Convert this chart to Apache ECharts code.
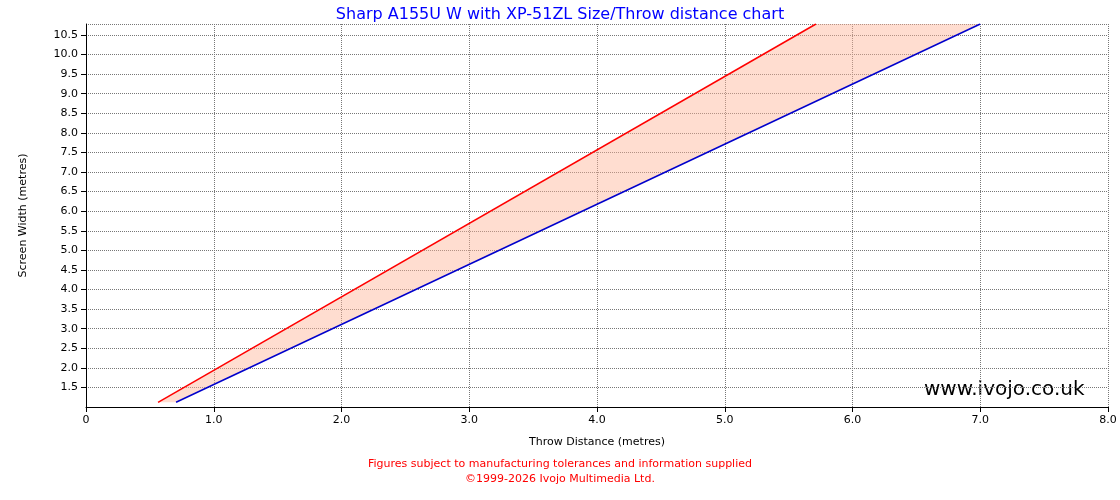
<!DOCTYPE html>
<html><head><meta charset="utf-8">
<script src="https://cdn.jsdelivr.net/npm/echarts@6/dist/echarts.min.js"></script>
<style>body{margin:0}#main{width:1120px;height:500px}</style>
</head><body>
<div id="main"></div>
<script>
// throw distance (m) vs screen width (m)
var redLine = [[0.564, 1.12], [5.714, 10.78]];
var blueLine = [[0.705, 1.12], [7.0, 10.78]];
var xTicks = [0, 1, 2, 3, 4, 5, 6, 7, 8];

var chart = echarts.init(document.getElementById('main'));
var font = 'DejaVu Sans';
chart.setOption({
    animation: false,
    title: {
        text: 'Sharp A155U W with XP-51ZL Size/Throw distance chart',
        left: 'center', top: 2,
        textStyle: {color: '#0000ff', fontSize: 16, fontWeight: 'normal', fontFamily: font}
    },
    grid: {left: 86, right: 12, top: 24, bottom: 93},
    xAxis: {
        type: 'value', min: 0, max: 8, interval: 1,
        name: 'Throw Distance (metres)', nameLocation: 'middle', nameGap: 30,
        nameTextStyle: {color: '#000', fontSize: 11, fontFamily: font},
        axisLine: {lineStyle: {color: '#000'}},
        axisTick: {lineStyle: {color: '#000'}},
        axisLabel: {color: '#000', fontSize: 11, fontFamily: font,
            formatter: function (v) { return xTicks.indexOf(v) >= 0 ? (v === 0 ? '0' : v.toFixed(1)) : ''; }},
        splitLine: {lineStyle: {color: '#777', type: 'dotted'}}
    },
    yAxis: {
        type: 'value', min: 1.0, max: 10.78, interval: 0.5,
        name: 'Screen Width (metres)', nameLocation: 'middle', nameGap: 57,
        nameTextStyle: {color: '#000', fontSize: 11, fontFamily: font},
        axisLine: {show: true, lineStyle: {color: '#000'}},
        axisTick: {show: true, lineStyle: {color: '#000'}},
        axisLabel: {color: '#000', fontSize: 11, fontFamily: font, showMinLabel: false, showMaxLabel: false,
            formatter: function (v) { return v.toFixed(1); }},
        splitLine: {lineStyle: {color: '#777', type: 'dotted'}}
    },
    graphic: [
        {type: 'text', left: 924, top: 380, style: {text: 'www.ivojo.co.uk', fill: '#000', fontSize: 20, fontFamily: font}},
        {type: 'text', left: 'center', top: 459, style: {text: 'Figures subject to manufacturing tolerances and information supplied', fill: '#ff0000', fontSize: 11, fontFamily: font}},
        {type: 'text', left: 'center', top: 474, style: {text: '©1999-2026 Ivojo Multimedia Ltd.', fill: '#ff0000', fontSize: 11, fontFamily: font}}
    ],
    series: [
        {
            type: 'custom',
            renderItem: function (params, api) {
                var pts = [redLine[0], redLine[1], blueLine[1], blueLine[0]].map(function (p) { return api.coord(p); });
                return {type: 'polygon', shape: {points: pts}, style: {fill: 'rgba(255,180,150,0.45)'}};
            },
            data: [[0, 0]], z: 1
        },
        {type: 'line', data: redLine, symbol: 'none', lineStyle: {color: '#ff0000', width: 1.5}, z: 3},
        {type: 'line', data: blueLine, symbol: 'none', lineStyle: {color: '#0000cc', width: 1.5}, z: 3}
    ]
});
</script>
</body></html>
